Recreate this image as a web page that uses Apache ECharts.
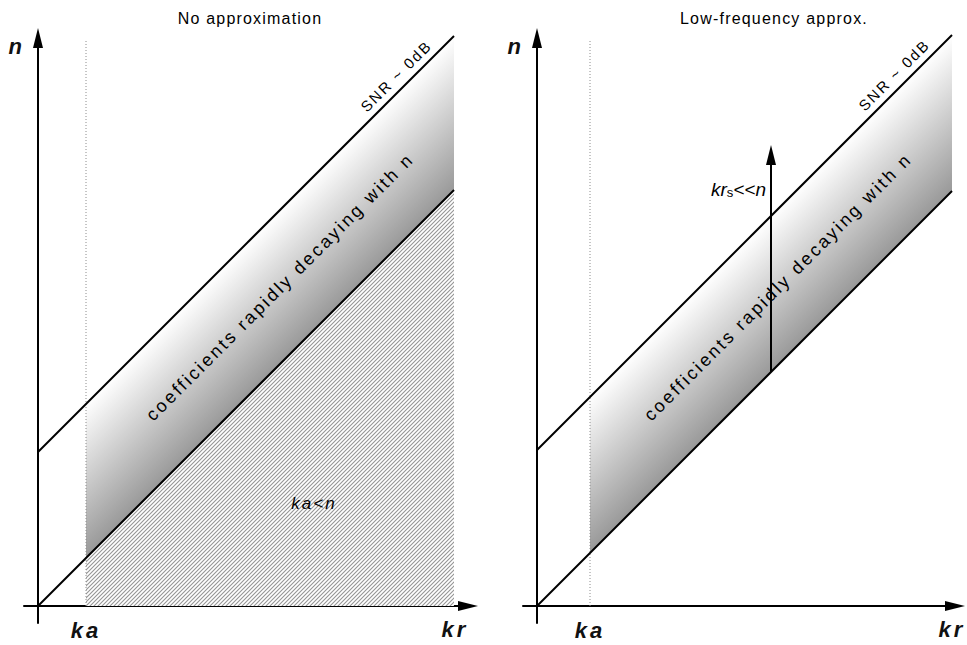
<!DOCTYPE html>
<html>
<head>
<meta charset="utf-8">
<script src="https://cdn.jsdelivr.net/npm/echarts@6/dist/echarts.min.js"></script>
<style>
html,body{margin:0;padding:0;background:#fff;}
#chart{width:967px;height:645px;}
</style>
</head>
<body>
<div id="chart"></div>
<script>
// ---- data (schematic units: kr along x, n along y) ----
const panelTitles = ['No approximation', 'Low-frequency approx.'];
const kaValue = [48, 53];            // kr = ka
const krEnd = [416, 415];            // right end of the shaded band
const snrOffset = [154, 156];        // n offset of the "SNR ~ 0dB" line above n = kr
const kaLineTop = [566, 565];        // top of the dotted ka line
const bandTextKr = [242, 241];       // where the band caption sits along kr
const snrTextKr = [367, 366];        // where "SNR ~ 0dB" sits along kr
const arrowKr = [234];               // right panel arrow position (kr)
const arrowTopN = [451];             // right panel arrow end (n)
const kaLessNAnchor = [276, 103];    // "ka<n" label (kr, n)
const krsAnchor = [229, 417];        // "krs<<n" label (kr, n)
const xRange = [[-14, 430], [-14, 418]];
const yRange = [-17, 568];

const FONT = '"Liberation Sans", Arial, sans-serif';

// hatch pattern
function makeHatch() {
  const c = document.createElement('canvas');
  c.width = 4; c.height = 4;
  const g = c.getContext('2d');
  g.fillStyle = '#ffffff'; g.fillRect(0, 0, 4, 4);
  g.strokeStyle = '#959595'; g.lineWidth = 1.1;
  g.beginPath();
  g.moveTo(-1, 5); g.lineTo(5, -1);
  g.moveTo(-1, 1); g.lineTo(1, -1);
  g.moveTo(3, 5); g.lineTo(5, 3);
  g.stroke();
  return c;
}
const hatchCanvas = makeHatch();

const chart = echarts.init(document.getElementById('chart'), null, {renderer: 'svg'});

const grids = [
  {left: 24, top: 38, width: 444, height: 585, outerBoundsMode: 'none', containLabel: false},
  {left: 523, top: 38, width: 432, height: 585, outerBoundsMode: 'none', containLabel: false}
];

function axisX(i) {
  return {
    type: 'value', gridIndex: i, min: xRange[i][0], max: xRange[i][1],
    splitLine: {show: false}, axisTick: {show: false},
    axisLine: {show: true, onZero: true, symbol: ['none', 'triangle'], symbolSize: [10, 20],
      lineStyle: {color: '#000', width: 2}},
    axisLabel: {show: true, customValues: [kaValue[i]], formatter: function () { return 'ka'; },
      color: '#111', fontSize: 22, fontStyle: 'italic', fontWeight: 'bold', fontFamily: FONT, margin: -4},
    name: 'kr', nameLocation: 'end', nameGap: i === 0 ? -13 : -3,
    nameTextStyle: {color: '#111', fontSize: 22, fontStyle: 'italic', fontWeight: 'bold', fontFamily: FONT,
      align: 'center', verticalAlign: 'top', padding: [12, 0, 0, 0]}
  };
}
function axisY(i) {
  return {
    type: 'value', gridIndex: i, min: yRange[0], max: yRange[1],
    splitLine: {show: false}, axisTick: {show: false}, axisLabel: {show: false},
    axisLine: {show: true, onZero: true, symbol: ['none', 'triangle'], symbolSize: [10, 20],
      lineStyle: {color: '#000', width: 2}},
    name: 'n', nameLocation: 'end', nameGap: -8,
    nameTextStyle: {color: '#111', fontSize: 22, fontStyle: 'italic', fontWeight: 'bold', fontFamily: FONT,
      align: 'right', verticalAlign: 'middle', padding: [0, 16, 0, 0]}
  };
}

function bandSeries(i) {
  return {
    type: 'custom', xAxisIndex: i, yAxisIndex: i, silent: true, z: 1,
    data: [[kaValue[i], kaValue[i]]],
    renderItem: function (params, api) {
      const k = kaValue[i], e = krEnd[i], off = snrOffset[i];
      const pts = [[k, k], [k, k + off], [e, e + off], [e, e]].map(function (p) { return api.coord(p); });
      const p0 = api.coord([k, k + off]);
      const pl = api.coord([k, k]);
      const h = pl[1] - p0[1];
      const grad = new echarts.graphic.LinearGradient(p0[0], p0[1], p0[0] + h / 2, p0[1] + h / 2,
        [{offset: 0, color: '#ffffff'}, {offset: 1, color: '#999999'}], true);
      const c = api.coord([bandTextKr[i], bandTextKr[i] + off / 2]);
      const s = api.coord([snrTextKr[i], snrTextKr[i] + off]);
      const children = [
        {type: 'polygon', shape: {points: pts}, style: {fill: grad, stroke: null}},
        {type: 'text', x: c[0], y: c[1], rotation: Math.PI / 4,
          style: {text: 'coefficients rapidly decaying with n', font: '18px ' + FONT, fill: '#000',
            align: 'center', verticalAlign: 'middle'}},
        {type: 'text', x: s[0] - 9, y: s[1] - 9, rotation: Math.PI / 4,
          style: {text: 'SNR ~ 0dB', font: '15px ' + FONT, fill: '#000', align: 'center', verticalAlign: 'middle'}}
      ];
      return {type: 'group', children: children};
    }
  };
}

function hatchSeries() {
  return {
    type: 'custom', xAxisIndex: 0, yAxisIndex: 0, silent: true, z: 1,
    data: [[kaValue[0], 0]],
    renderItem: function (params, api) {
      const k = kaValue[0], e = krEnd[0];
      const pts = [[k, 0], [e, 0], [e, e], [k, k]].map(function (p) { return api.coord(p); });
      const t = api.coord(kaLessNAnchor);
      return {type: 'group', children: [
        {type: 'polygon', shape: {points: pts}, style: {fill: {image: hatchCanvas, repeat: 'repeat'}, stroke: null}},
        {type: 'text', x: t[0], y: t[1], style: {text: 'ka<n', font: 'italic 17px ' + FONT, fill: '#000',
          align: 'center', verticalAlign: 'middle'}}
      ]};
    }
  };
}

function lineSeries(i, data, style, z) {
  return {type: 'line', xAxisIndex: i, yAxisIndex: i, data: data, showSymbol: false, silent: true,
    clip: false, z: z || 3, lineStyle: style};
}

const series = [];
series.push(hatchSeries());
for (let i = 0; i < 2; i++) {
  const k = kaValue[i], e = krEnd[i], off = snrOffset[i];
  series.push(bandSeries(i));
  series.push(lineSeries(i, [[k, 0], [k, kaLineTop[i]]], {color: '#8c8c8c', width: 1, type: [1, 2]}, 2));
  series.push(lineSeries(i, [[0, 0], [e, e]], {color: '#000', width: 2}));
  series.push(lineSeries(i, [[0, off], [e, e + off]], {color: '#000', width: 2}));
}
// right panel arrow
series.push({
  type: 'line', xAxisIndex: 1, yAxisIndex: 1, silent: true, clip: false, z: 4,
  showSymbol: true, showAllSymbol: true,
  data: [
    {value: [arrowKr[0], arrowKr[0]], symbol: 'none'},
    {value: [arrowKr[0], arrowTopN[0]], symbol: 'triangle', symbolSize: [10, 20]}
  ],
  lineStyle: {color: '#000', width: 2}, itemStyle: {color: '#000'}
});
series.push({
  type: 'custom', xAxisIndex: 1, yAxisIndex: 1, silent: true, z: 5,
  data: [krsAnchor],
  renderItem: function (params, api) {
    const p = api.coord(krsAnchor);
    return {type: 'text', x: p[0], y: p[1], style: {
      text: '{i|kr}{s|s}{i|<<n}', align: 'right', verticalAlign: 'middle', fill: '#000',
      rich: {
        i: {font: 'italic 19px ' + FONT, fill: '#000', verticalAlign: 'bottom'},
        s: {font: '13px ' + FONT, fill: '#000', verticalAlign: 'bottom'}
      }
    }};
  }
});

chart.setOption({
  animation: false,
  backgroundColor: '#ffffff',
  title: [
    {text: panelTitles[0], left: 245, top: 5, textAlign: 'center',
      textStyle: {fontSize: 16, fontWeight: 'normal', color: '#000', fontFamily: FONT}},
    {text: panelTitles[1], left: 769, top: 5, textAlign: 'center',
      textStyle: {fontSize: 16, fontWeight: 'normal', color: '#000', fontFamily: FONT}}
  ],
  grid: grids,
  xAxis: [axisX(0), axisX(1)],
  yAxis: [axisY(0), axisY(1)],
  series: series
});

const spacing = {
  'No approximation': '1.2px', 'Low-frequency approx.': '1.2px', 'SNR ~ 0dB': '2px',
  'coefficients rapidly decaying with n': '2.6px', 'ka<n': '2px'
};
function applySpacing() {
  document.querySelectorAll('#chart text').forEach(function (t) {
    const txt = t.textContent;
    const st = t.getAttribute('style') || '';
    if (spacing[txt]) t.setAttribute('letter-spacing', spacing[txt]);
    else if ((txt === 'ka' || txt === 'kr') && st.indexOf('22px') >= 0) t.setAttribute('letter-spacing', '3px');
  });
}
applySpacing();
chart.on('finished', applySpacing);
</script>
</body>
</html>
